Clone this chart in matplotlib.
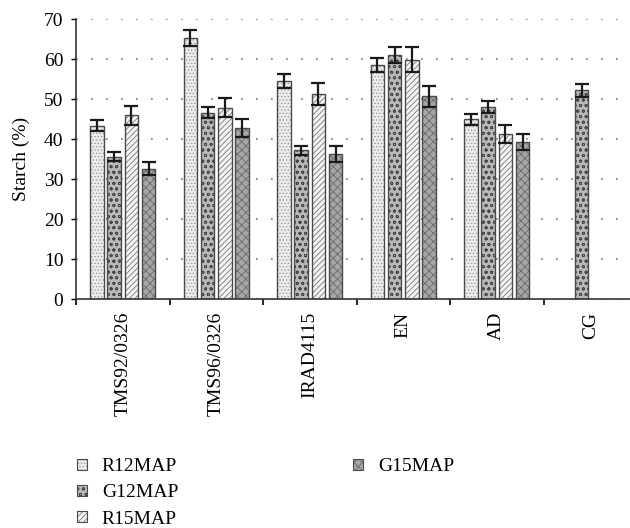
import numpy as np
import matplotlib
matplotlib.use("Agg")
import matplotlib.pyplot as plt
from matplotlib.patches import Patch

plt.rcParams['font.family'] = ['Liberation Serif', 'DejaVu Serif']
plt.rcParams['hatch.linewidth'] = 0.6

cultivars = ['TMS92/0326', 'TMS96/0326', 'IRAD4115', 'EN', 'AD', 'CG']
series = ['R12MAP', 'G12MAP', 'R15MAP', 'G15MAP']

r12 = [43.3, 65.2, 54.5, 58.5, 44.9, np.nan]
g12 = [35.6, 46.6, 37.2, 61.0, 48.0, 52.2]
r15 = [45.9, 47.8, 51.3, 59.8, 41.3, np.nan]
g15 = [32.6, 42.7, 36.3, 50.7, 39.3, np.nan]

r12_err = [1.4, 2.0, 1.7, 1.8, 1.4, np.nan]
g12_err = [1.2, 1.3, 1.1, 2.0, 1.6, 1.6]
r15_err = [2.3, 2.4, 2.7, 3.1, 2.2, np.nan]
g15_err = [1.7, 2.2, 2.0, 2.6, 2.0, np.nan]

values = [r12, g12, r15, g15]
errors = [r12_err, g12_err, r15_err, g15_err]
styles = [('#ececec', '#9a9a9a', '.....'),
          ('#b8b8b8', '#444444', 'ooo'),
          ('#f4f4f4', '#777777', '//////'),
          ('#a6a6a6', '#6a6a6a', 'xxxx')]

fs = 14

fig = plt.figure(figsize=(6.3, 5.28), dpi=100)
ax = fig.add_axes([76/630, 1 - 299/528, 561/630, 280/528])

x = np.arange(len(cultivars))
pitch, width = 0.185, 0.144
handles = []
for i, (vals, errs, (fc, hc, hatch)) in enumerate(zip(values, errors, styles)):
	pos = x + (i - 1.5) * pitch
	ax.bar(pos, vals, width, facecolor=fc, edgecolor='#4a4a4a', linewidth=1.0,
		hatch=hatch, zorder=2)
	for b in ax.patches[-len(cultivars):]:
		b._hatch_color = matplotlib.colors.to_rgba(hc)
	ax.errorbar(pos, vals, yerr=errs, fmt='none', ecolor='#1a1a1a',
		elinewidth=1.6, capsize=5, capthick=1.6, zorder=3)
	h = Patch(facecolor=fc, edgecolor='#4a4a4a', linewidth=0.8, hatch=hatch)
	h._hatch_color = matplotlib.colors.to_rgba(hc)
	handles.append(h)

ax.set_xlim(-0.5, 5.5)
ax.set_ylim(0, 70)
ax.set_yticks(range(0, 71, 10))
ax.yaxis.grid(True, linestyle=(0, (1, 8)), color='#777777', linewidth=1.2)
ax.set_axisbelow(True)

ax.set_xticks(np.arange(-0.5, 5.6, 1.0))
ax.set_xticklabels([])
ax.set_xticks(x, minor=True)
ax.set_xticklabels(cultivars, minor=True, rotation=90, fontsize=fs)
ax.tick_params(axis='x', which='minor', length=0, pad=9)
ax.tick_params(axis='x', which='major', length=4, width=1.2, direction='out')
ax.tick_params(axis='y', length=3.5, width=1.0, labelsize=fs, pad=5.5)

for s in ['top', 'right']:
	ax.spines[s].set_visible(False)
for s in ['left', 'bottom']:
	ax.spines[s].set_linewidth(1.2)
	ax.spines[s].set_color('#333333')

ax.set_ylabel('Starch (%)', fontsize=fs, labelpad=10)

blank = Patch(facecolor='none', edgecolor='none')
leg_handles = handles[:3] + [handles[3], blank, blank]
leg_labels = series[:3] + [series[3], '', '']
fig.legend(leg_handles, leg_labels, ncol=2, loc='upper left',
	bbox_to_anchor=(77/630, 1 - 458/528), frameon=False, fontsize=fs,
	borderpad=0, borderaxespad=0,
	handlelength=0.5, handleheight=0.5, handletextpad=0.78,
	labelspacing=0.48, columnspacing=9.0)

fig.savefig('out.png', dpi=100)
